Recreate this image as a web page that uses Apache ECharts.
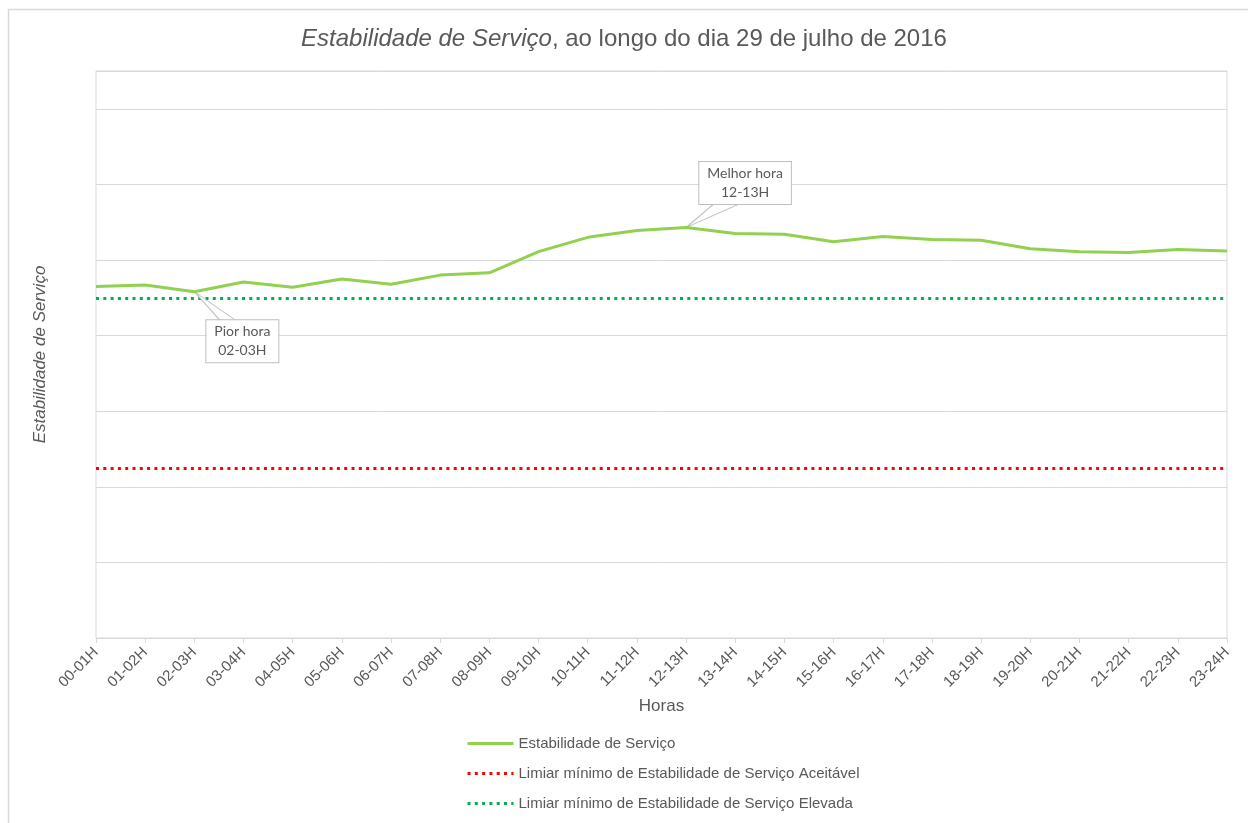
<!DOCTYPE html>
<html>
<head>
<meta charset="utf-8">
<script src="https://cdn.jsdelivr.net/npm/echarts@6/dist/echarts.min.js"></script>
<style>
  html, body { margin: 0; padding: 0; background: #fff; }
  #chart { width: 1248px; height: 823px; }
</style>
</head>
<body>
<div id="chart"></div>
<script>
// horas do dia
var hours = ["00-01H", "01-02H", "02-03H", "03-04H", "04-05H", "05-06H", "06-07H", "07-08H",
  "08-09H", "09-10H", "10-11H", "11-12H", "12-13H", "13-14H", "14-15H", "15-16H",
  "16-17H", "17-18H", "18-19H", "19-20H", "20-21H", "21-22H", "22-23H", "23-24H"];
// estabilidade de serviço (escala sem rótulos)
var stability = [46.5, 46.7, 45.8, 47.1, 46.4, 47.5, 46.8, 48.0,
  48.3, 51.1, 53.0, 53.9, 54.3, 53.5, 53.4, 52.4,
  53.1, 52.7, 52.6, 51.5, 51.1, 51.0, 51.4, 51.2];
// limiares
var acceptableMin = 22.4;
var highMin = 44.9;
// anotações
var worstHour = "02-03H";
var bestHour = "12-13H";

var textColor = "#595959";
var gridColor = "#d9d9d9";
var chart = echarts.init(document.getElementById("chart"));

function calloutLabel(text, offset) {
  return {
    show: true,
    position: "inside",
    offset: offset,
    formatter: text,
    color: textColor,
    fontFamily: "Lato",
    fontSize: 14,
    lineHeight: 19,
    backgroundColor: "#fff",
    borderColor: "#bfbfbf",
    borderWidth: 1,
    padding: [2, 8, 2, 8],
    align: "center"
  };
}

var option = {
  animation: false,
  textStyle: { fontFamily: "Liberation Sans" },
  graphic: [{
    type: "rect",
    shape: { x: 8.5, y: 9.5, width: 1260, height: 840 },
    style: { fill: "none", stroke: gridColor, lineWidth: 1.5 },
    silent: true
  }],
  title: {
    left: "center",
    top: 22,
    text: "{i|Estabilidade de Serviço}, ao longo do dia 29 de julho de 2016",
    textStyle: {
      color: textColor,
      fontSize: 24,
      fontWeight: "normal",
      rich: {
        i: { fontStyle: "italic", fontSize: 24, color: textColor }
      }
    }
  },
  legend: {
    orient: "vertical",
    left: 461,
    top: 731,
    itemWidth: 46,
    itemHeight: 14,
    itemGap: 15,
    itemStyle: { opacity: 0 },
    lineStyle: { width: 3 },
    textStyle: { color: textColor, fontSize: 15 },
    data: [
      "Estabilidade de Serviço",
      "Limiar mínimo de Estabilidade de Serviço Aceitável",
      "Limiar mínimo de Estabilidade de Serviço Elevada"
    ]
  },
  grid: {
    left: 96,
    right: 21,
    top: 71,
    bottom: 185,
    show: true,
    borderColor: gridColor,
    borderWidth: 1
  },
  xAxis: {
    type: "category",
    data: hours,
    boundaryGap: false,
    name: "Horas",
    nameLocation: "middle",
    nameGap: 60,
    nameTextStyle: { color: textColor, fontSize: 17 },
    axisLine: { lineStyle: { color: gridColor } },
    axisTick: { show: true, length: 5, lineStyle: { color: gridColor } },
    axisLabel: { rotate: 45, color: textColor, fontSize: 15, margin: 12, interval: 0 },
    splitLine: { show: false }
  },
  yAxis: {
    type: "value",
    min: 0,
    max: 75,
    interval: 10,
    name: "Estabilidade de Serviço",
    nameLocation: "middle",
    nameGap: 47,
    nameTextStyle: { color: textColor, fontSize: 17, fontStyle: "italic" },
    axisLine: { show: false },
    axisTick: { show: false },
    axisLabel: { show: false },
    splitLine: { lineStyle: { color: gridColor } }
  },
  series: [
    {
      name: "Estabilidade de Serviço",
      type: "line",
      data: stability,
      showSymbol: false,
      symbol: "none",
      lineStyle: { color: "#92d050", width: 3 },
      itemStyle: { color: "#92d050" },
      z: 5,
      markPoint: {
        silent: true,
        itemStyle: { color: "#fff", borderColor: "#bfbfbf", borderWidth: 1 },
        data: [
          {
            coord: [worstHour, stability[hours.indexOf(worstHour)]],
            symbol: "path://M0,0 L26,29 L42,29 Z",
            symbolSize: [42, 29],
            symbolOffset: [21, 14.5],
            symbolKeepAspect: false,
            label: calloutLabel("Pior hora\n02-03H", [27, 35])
          },
          {
            coord: [bestHour, stability[hours.indexOf(bestHour)]],
            symbol: "path://M0,23 L27,0 L52,0 Z",
            symbolSize: [52, 23],
            symbolOffset: [26, -11.5],
            symbolKeepAspect: false,
            label: calloutLabel("Melhor hora\n12-13H", [33, -33])
          }
        ]
      }
    },
    {
      name: "Limiar mínimo de Estabilidade de Serviço Aceitável",
      type: "line",
      data: [],
      symbol: "none",
      lineStyle: { color: "#ff0000", width: 3, type: [3, 4.3] },
      itemStyle: { color: "#ff0000" },
      markLine: {
        silent: true,
        symbol: "none",
        label: { show: false },
        lineStyle: { color: "#ff0000", width: 3, type: [3, 4.3] },
        data: [{ yAxis: acceptableMin }]
      }
    },
    {
      name: "Limiar mínimo de Estabilidade de Serviço Elevada",
      type: "line",
      data: [],
      symbol: "none",
      lineStyle: { color: "#00b050", width: 3, type: [3, 4.3] },
      itemStyle: { color: "#00b050" },
      markLine: {
        silent: true,
        symbol: "none",
        label: { show: false },
        lineStyle: { color: "#00b050", width: 3, type: [3, 4.3] },
        data: [{ yAxis: highMin }]
      }
    }
  ]
};

chart.setOption(option);
</script>
</body>
</html>
